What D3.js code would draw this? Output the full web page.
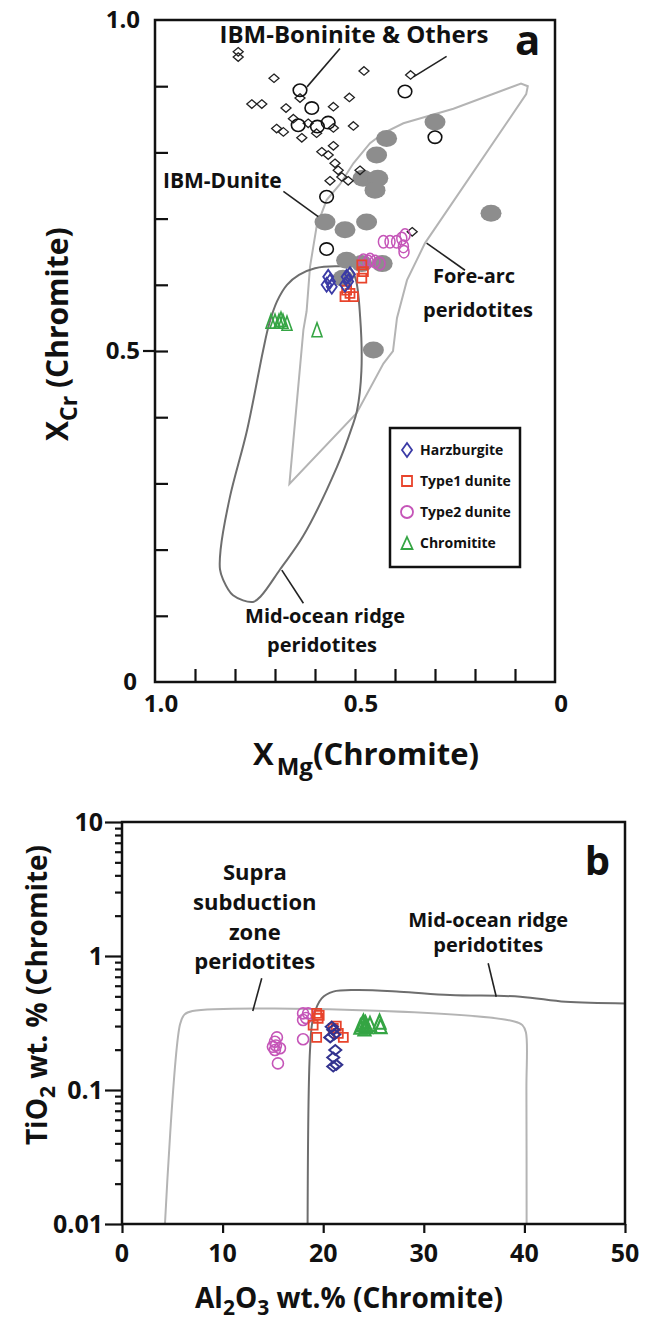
<!DOCTYPE html>
<html>
<head>
<meta charset="utf-8">
<title>Chromite composition diagrams</title>
<script src="https://cdnjs.cloudflare.com/ajax/libs/d3/7.8.5/d3.min.js"></script>
<style>
  body { margin: 0; background: #fff; }
  text { font-family: "Open Sans", "DejaVu Sans", sans-serif; font-weight: bold; fill: #111; }
</style>
</head>
<body>
<div id="chart"></div>
<script>

// ---- panel a : [X_Mg, X_Cr] ----
var boniniteDiamonds = [[0.792,0.952],[0.792,0.944],[0.7025,0.912],[0.4775,0.923],[0.361,0.917],
  [0.758,0.873],[0.733,0.873],[0.6725,0.867],[0.6375,0.882],[0.554,0.869],[0.514,0.883],
  [0.504,0.840],[0.696,0.836],[0.679,0.831],[0.654,0.851],[0.633,0.822],[0.617,0.844],
  [0.596,0.829],[0.554,0.837],[0.554,0.810],[0.583,0.801],[0.567,0.796],[0.55,0.7835],
  [0.542,0.773],[0.533,0.763],[0.517,0.757],[0.5625,0.757],[0.4875,0.773],[0.357,0.680]];
var boniniteCircles = [[0.6375,0.894],[0.608,0.867],[0.642,0.841],[0.594,0.839],[0.567,0.845],
  [0.375,0.892],[0.30,0.823],[0.571,0.733],[0.571,0.654]];
var ibmDunite = [[0.30,0.846],[0.421,0.821],[0.446,0.796],[0.48,0.761],[0.443,0.761],[0.45,0.743],
  [0.575,0.695],[0.525,0.683],[0.471,0.695],[0.521,0.637],[0.483,0.632],[0.432,0.632],
  [0.454,0.5015],[0.16,0.708],[0.53,0.61]];
var harzA = [[0.567,0.612],[0.5625,0.605],[0.571,0.600],[0.558,0.597],[0.521,0.612],[0.517,0.605],
  [0.525,0.600],[0.5125,0.616]];
var type1A = [[0.483,0.630],[0.479,0.620],[0.483,0.610],[0.5125,0.587],[0.504,0.582],[0.525,0.582],
  [0.521,0.592]];
var type2A = [[0.429,0.665],[0.4125,0.665],[0.396,0.665],[0.383,0.670],[0.375,0.675],[0.379,0.658],
  [0.3775,0.650],[0.479,0.637],[0.467,0.635],[0.45,0.635],[0.4375,0.632],[0.4625,0.638]];
var chromA = [[0.71,0.545],[0.70,0.545],[0.69,0.545],[0.68,0.545],[0.67,0.542],[0.685,0.548],
  [0.595,0.532]];

var morFieldA = [[0.8375,0.17],[0.836,0.20],[0.8125,0.28],[0.77,0.38],[0.73,0.50],[0.715,0.54],
  [0.695,0.575],[0.67,0.60],[0.64,0.615],[0.60,0.625],[0.55,0.628],[0.515,0.626],[0.499,0.61],
  [0.487,0.55],[0.484,0.47],[0.495,0.41],[0.5075,0.385],[0.545,0.325],[0.63,0.22],[0.6875,0.17],
  [0.735,0.13],[0.755,0.121],[0.805,0.131],[0.83,0.155]];
var foreArcField = [[0.664,0.299],[0.629,0.532],[0.621,0.56],[0.6125,0.627],[0.596,0.688],
  [0.571,0.728],[0.5375,0.752],[0.504,0.7835],[0.4625,0.814],[0.429,0.829],[0.379,0.844],
  [0.254,0.866],[0.085,0.904],[0.068,0.9],[0.072,0.888],[0.325,0.663],[0.37,0.607],[0.395,0.55],
  [0.405,0.50],[0.429,0.481],[0.496,0.406]];

var xTicksA = [0.9,0.8,0.7,0.6,0.5,0.4,0.3,0.2,0.1];
var yTicksA = [0.1,0.2,0.3,0.4,0.5,0.6,0.7,0.8,0.9];
var xLabelsA = [1.0, 0.5, 0];
var yLabelsA = [1.0, 0.5, 0];

// ---- panel b : [Al2O3, TiO2] ----
var harzB = [[20.85,0.297],[21.0,0.281],[20.7,0.247],[21.2,0.199],[21.0,0.175],[21.3,0.154],
  [21.0,0.15],[21.1,0.26]];
var type1B = [[19.35,0.373],[19.5,0.343],[19.0,0.305],[19.35,0.247],[21.0,0.288],[21.5,0.265],
  [22.0,0.247],[21.3,0.30],[19.6,0.36]];
var type2B = [[15.4,0.247],[15.2,0.229],[15.0,0.21],[15.7,0.205],[15.2,0.199],[15.5,0.158],
  [18.0,0.373],[18.5,0.373],[18.0,0.333],[18.3,0.345],[18.0,0.239],[15.3,0.215]];
var chromB = [[24.0,0.323],[24.3,0.30],[23.7,0.297],[24.1,0.288],[24.65,0.31],[25.6,0.323],
  [25.7,0.30],[23.9,0.31],[24.2,0.315]];

var sszField = [[4.27,0.01],[5.77,0.31],[6.2,0.365],[7.0,0.388],[26,0.388],[39.0,0.325],
  [39.8,0.305],[40.15,0.27],[40.2,0.1],[40.22,0.01]];
var morFieldB = [[18.45,0.01],[18.69,0.199],[19.02,0.35],[19.85,0.483],[21.0,0.542],[23.3,0.557],
  [27.6,0.542],[32.6,0.512],[39.6,0.497],[44.1,0.455],[50,0.443]];

var xTicksB = [0,10,20,30,40,50];
var yMajorB = [0.01,0.1,1,10];

// legend
var legendNames = ["Harzburgite","Type1 dunite","Type2 dunite","Chromitite"];
var colors = {harz:"#3b3ba6", t1:"#e8442c", t2:"#c555b8", chrom:"#35a544"};

var svg = d3.select("#chart").append("svg")
  .attr("width", 652).attr("height", 1328)
  .style("background", "#fff");

// scales
var xa = d3.scaleLinear().domain([1, 0]).range([155, 555]);
var ya = d3.scaleLinear().domain([0, 1]).range([682, 20]);
var xb = d3.scaleLinear().domain([0, 50]).range([122, 625]);
var yb = d3.scaleLog().domain([0.01, 10]).range([1224, 822]);

// symbol paths
function diamond(w, h) { return "M0," + (-h/2) + "L" + (w/2) + ",0L0," + (h/2) + "L" + (-w/2) + ",0Z"; }
function square(s) { return "M" + (-s/2) + "," + (-s/2) + "h" + s + "v" + s + "h" + (-s) + "Z"; }
function triangle(w, h) { return "M0," + (-h/2) + "L" + (w/2) + "," + (h/2) + "L" + (-w/2) + "," + (h/2) + "Z"; }

function drawPath(g, data, x, y, d, color, sw) {
  g.append("g").selectAll("path").data(data).enter().append("path")
    .attr("transform", function(p) { return "translate(" + x(p[0]) + "," + y(p[1]) + ")"; })
    .attr("d", d).attr("fill", "none").attr("stroke", color).attr("stroke-width", sw);
}
function drawEllipse(g, data, x, y, rx, ry, color, sw) {
  g.append("g").selectAll("ellipse").data(data).enter().append("ellipse")
    .attr("cx", function(p) { return x(p[0]); }).attr("cy", function(p) { return y(p[1]); })
    .attr("rx", rx).attr("ry", ry).attr("fill", "none").attr("stroke", color).attr("stroke-width", sw);
}
function leader(g, x, y, a, b) {
  g.append("line").attr("x1", x(a[0])).attr("y1", y(a[1])).attr("x2", x(b[0])).attr("y2", y(b[1]))
    .attr("stroke", "#222").attr("stroke-width", 1.6);
}
function tickLines(g) {
  g.select(".domain").remove();
  g.selectAll("line").attr("stroke-width", 2.2).attr("stroke", "#111");
}

/* ================= panel a ================= */
var ga = svg.append("g");

var lineA = d3.line().x(function(d) { return xa(d[0]); }).y(function(d) { return ya(d[1]); });

ga.append("path").datum(foreArcField)
  .attr("d", lineA.curve(d3.curveLinearClosed))
  .attr("fill", "none").attr("stroke", "#b4b4b4").attr("stroke-width", 2);
ga.append("path").datum(morFieldA)
  .attr("d", lineA.curve(d3.curveCatmullRomClosed.alpha(0.5)))
  .attr("fill", "none").attr("stroke", "#6e6e6e").attr("stroke-width", 2);

ga.append("g").selectAll("ellipse").data(ibmDunite).enter().append("ellipse")
  .attr("cx", function(d) { return xa(d[0]); }).attr("cy", function(d) { return ya(d[1]); })
  .attr("rx", 10.5).attr("ry", 8.5).attr("fill", "#8d8d8d");

drawPath(ga, boniniteDiamonds, xa, ya, diamond(10, 8.5), "#222", 1.3);
drawEllipse(ga, boniniteCircles, xa, ya, 6.8, 6.2, "#111", 1.6);
drawEllipse(ga, type2A, xa, ya, 5, 6.3, colors.t2, 1.5);
drawPath(ga, type1A, xa, ya, square(9), colors.t1, 1.8);
drawPath(ga, harzA, xa, ya, diamond(10, 14), colors.harz, 1.8);
drawPath(ga, chromA, xa, ya, triangle(10, 14), colors.chrom, 1.6);

// frame and ticks
ga.append("rect").attr("x", xa(1)).attr("y", ya(1))
  .attr("width", xa(0) - xa(1)).attr("height", ya(0) - ya(1))
  .attr("fill", "none").attr("stroke", "#111").attr("stroke-width", 2.5);

ga.append("g").attr("transform", "translate(" + xa(1) + ",0)")
  .call(d3.axisLeft(ya).tickValues(yTicksA).tickSize(-13).tickFormat(""))
  .call(tickLines);
ga.append("line").attr("x1", xa(1) - 12).attr("x2", xa(1)).attr("y1", ya(0.5)).attr("y2", ya(0.5))
  .attr("stroke", "#111").attr("stroke-width", 2.2);
ga.append("g").attr("transform", "translate(0," + ya(0) + ")")
  .call(d3.axisBottom(xa).tickValues(xTicksA).tickSize(-13).tickFormat(""))
  .call(tickLines);

ga.selectAll(".ylab").data(yLabelsA).enter().append("text")
  .attr("x", function(d) { return d === 0 ? xa(1) - 18 : xa(1) - 15; })
  .attr("y", function(d) { return ya(d); }).attr("dy", "0.35em")
  .attr("text-anchor", "end").style("font-size", "24px")
  .text(function(d) { return d === 0 ? "0" : d3.format(".1f")(d); });
ga.selectAll(".xlab").data(xLabelsA).enter().append("text")
  .attr("x", function(d) { return xa(d) + 6; }).attr("y", 712)
  .attr("text-anchor", "middle").style("font-size", "24px")
  .text(function(d) { return d === 0 ? "0" : d3.format(".1f")(d); });

// axis titles
var tx = ga.append("text").attr("x", 253).attr("y", 765).style("font-size", "31px");
tx.append("tspan").text("X");
tx.append("tspan").attr("dx", 3).attr("dy", 10).style("font-size", "24px").text("Mg");
tx.append("tspan").attr("dy", -10).text("(Chromite)");

var ty = ga.append("text").attr("transform", "translate(68,441) rotate(-90)").style("font-size", "30px");
ty.append("tspan").text("X");
ty.append("tspan").attr("dy", 9).style("font-size", "23px").text("Cr");
ty.append("tspan").attr("dy", -9).text(" (Chromite)");

// annotations
ga.append("text").attr("x", xa(0.5025)).attr("y", ya(0.965)).attr("text-anchor", "middle")
  .style("font-size", "24px").text("IBM-Boninite & Others");
leader(ga, xa, ya, [0.5375,0.957], [0.62,0.899]);
leader(ga, xa, ya, [0.271,0.945], [0.354,0.914]);
ga.append("text").attr("x", xa(0.98)).attr("y", ya(0.746)).style("font-size", "21px").text("IBM-Dunite");
leader(ga, xa, ya, [0.679,0.741], [0.592,0.703]);
ga.append("text").attr("x", xa(0.305)).attr("y", ya(0.603)).style("font-size", "20px").text("Fore-arc");
ga.append("text").attr("x", xa(0.33)).attr("y", ya(0.551)).style("font-size", "20px").text("peridotites");
leader(ga, xa, ya, [0.321,0.663], [0.225,0.622]);
ga.append("text").attr("x", xa(0.575)).attr("y", ya(0.089)).attr("text-anchor", "middle")
  .style("font-size", "20px").text("Mid-ocean ridge");
ga.append("text").attr("x", xa(0.5825)).attr("y", ya(0.045)).attr("text-anchor", "middle")
  .style("font-size", "20px").text("peridotites");
leader(ga, xa, ya, [0.683,0.169], [0.629,0.119]);
ga.append("text").attr("x", xa(0.10)).attr("y", ya(0.947)).style("font-size", "42px").text("a");

// legend
var lg = ga.append("g");
lg.append("rect").attr("x", 390).attr("y", 428).attr("width", 130).attr("height", 139)
  .attr("fill", "#fff").attr("stroke", "#111").attr("stroke-width", 2.5);
var legendShapes = [diamond(10, 14), square(10), null, triangle(11, 12)];
var legendColors = [colors.harz, colors.t1, colors.t2, colors.chrom];
legendNames.forEach(function(name, i) {
  var yy = 450 + i * 31;
  if (legendShapes[i]) {
    lg.append("path").attr("transform", "translate(407," + yy + ")").attr("d", legendShapes[i])
      .attr("fill", "none").attr("stroke", legendColors[i]).attr("stroke-width", 1.8);
  } else {
    lg.append("circle").attr("cx", 407).attr("cy", yy).attr("r", 6)
      .attr("fill", "none").attr("stroke", legendColors[i]).attr("stroke-width", 1.8);
  }
  lg.append("text").attr("x", 420).attr("y", yy).attr("dy", "0.35em").style("font-size", "14px").text(name);
});

/* ================= panel b ================= */
var gb = svg.append("g");
var lineB = d3.line().x(function(d) { return xb(d[0]); }).y(function(d) { return yb(d[1]); })
  .curve(d3.curveCatmullRom.alpha(0.5));

gb.append("path").datum(sszField).attr("d", lineB)
  .attr("fill", "none").attr("stroke", "#b4b4b4").attr("stroke-width", 2);
gb.append("path").datum(morFieldB).attr("d", lineB)
  .attr("fill", "none").attr("stroke", "#6e6e6e").attr("stroke-width", 2);

drawEllipse(gb, type2B, xb, yb, 5.5, 5.5, colors.t2, 1.6);
drawPath(gb, type1B, xb, yb, square(9), colors.t1, 1.8);
drawPath(gb, harzB, xb, yb, diamond(12, 10), "#33338f", 2);
drawPath(gb, chromB, xb, yb, triangle(12, 14), colors.chrom, 2.2);

gb.append("rect").attr("x", xb(0)).attr("y", yb(10))
  .attr("width", xb(50) - xb(0)).attr("height", yb(0.01) - yb(10))
  .attr("fill", "none").attr("stroke", "#111").attr("stroke-width", 2.5);

// log ticks
var yMinorB = yb.ticks().filter(function(v) { return yMajorB.indexOf(v) < 0; });
gb.append("g").attr("transform", "translate(" + xb(0) + ",0)")
  .call(d3.axisLeft(yb).tickValues(yMinorB).tickSize(7).tickFormat(""))
  .call(tickLines);
gb.append("g").attr("transform", "translate(" + xb(0) + ",0)")
  .call(d3.axisLeft(yb).tickValues(yMajorB).tickSize(17).tickFormat(""))
  .call(tickLines);
gb.append("g").attr("transform", "translate(0," + yb(0.01) + ")")
  .call(d3.axisBottom(xb).tickValues(xTicksB).tickSize(9).tickFormat(""))
  .call(tickLines);

gb.selectAll(".ylabb").data(yMajorB).enter().append("text")
  .attr("x", xb(0) - 19).attr("y", function(d) { return yb(d); }).attr("dy", "0.35em")
  .attr("text-anchor", "end").style("font-size", "25px")
  .text(function(d) { return String(d); });
gb.selectAll(".xlabb").data(xTicksB).enter().append("text")
  .attr("x", function(d) { return xb(d); }).attr("y", 1262)
  .attr("text-anchor", "middle").style("font-size", "25px")
  .text(function(d) { return String(d); });

// titles
var txb = gb.append("text").attr("x", 195).attr("y", 1308).style("font-size", "28px");
txb.append("tspan").text("Al");
txb.append("tspan").attr("dy", 7).style("font-size", "21px").text("2");
txb.append("tspan").attr("dy", -7).text("O");
txb.append("tspan").attr("dy", 7).style("font-size", "21px").text("3");
txb.append("tspan").attr("dy", -7).text(" wt.% (Chromite)");

var tyb = gb.append("text").attr("transform", "translate(47,995) rotate(-90)")
  .attr("text-anchor", "middle").style("font-size", "28px");
tyb.append("tspan").text("TiO");
tyb.append("tspan").attr("dy", 8).style("font-size", "21px").text("2");
tyb.append("tspan").attr("dy", -8).text(" wt. % (Chromite)");

// annotations
var sszLines = ["Supra", "subduction", "zone", "peridotites"];
var sszY = [3.7, 2.2, 1.31, 0.80];
sszLines.forEach(function(s, i) {
  gb.append("text").attr("x", xb(13.2)).attr("y", yb(sszY[i])).attr("text-anchor", "middle")
    .style("font-size", "22px").text(s);
});
leader(gb, xb, yb, [13.89,0.682], [13.0,0.389]);
gb.append("text").attr("x", xb(36.4)).attr("y", yb(1.646)).attr("text-anchor", "middle")
  .style("font-size", "20px").text("Mid-ocean ridge");
gb.append("text").attr("x", xb(36.4)).attr("y", yb(1.071)).attr("text-anchor", "middle")
  .style("font-size", "20px").text("peridotites");
leader(gb, xb, yb, [36.4,0.882], [37.2,0.497]);
gb.append("text").attr("x", xb(46)).attr("y", yb(4.02)).style("font-size", "40px").text("b");

</script>
</body>
</html>
